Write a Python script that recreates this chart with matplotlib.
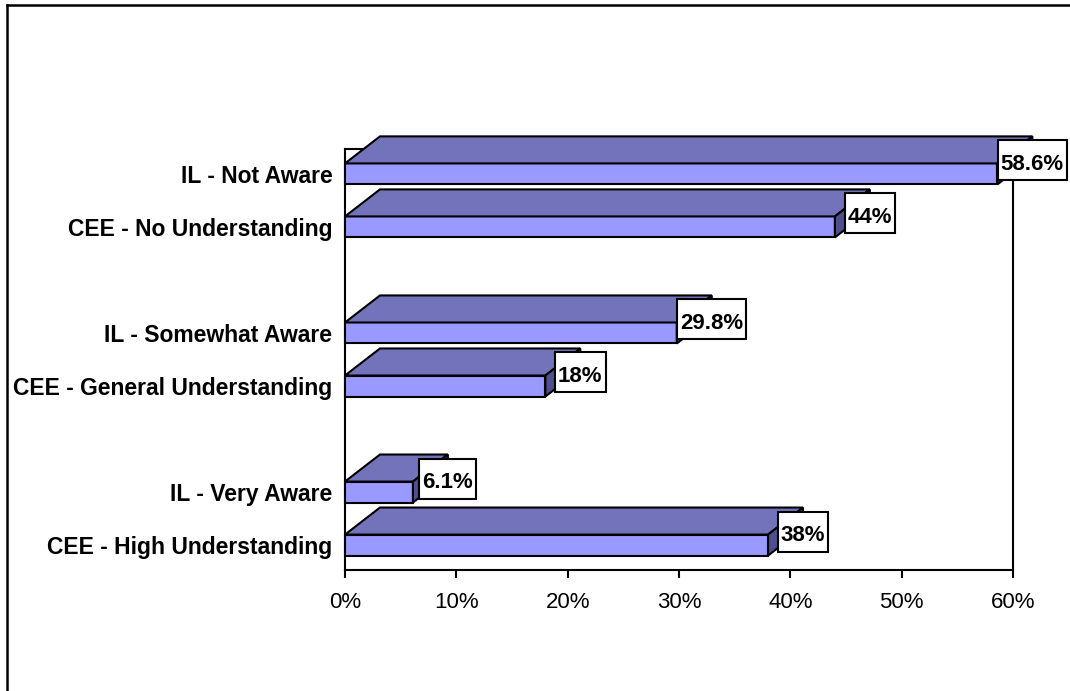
import matplotlib
matplotlib.use("Agg")
import matplotlib.pyplot as plt
from matplotlib.patches import Polygon, Rectangle
from matplotlib.lines import Line2D
from matplotlib.transforms import IdentityTransform, offset_copy

# data
categories = ["IL - Not Aware", "CEE - No Understanding",
              "IL - Somewhat Aware", "CEE - General Understanding",
              "IL - Very Aware", "CEE - High Understanding"]
values = [58.6, 44, 29.8, 18, 6.1, 38]
value_labels = ["58.6%", "44%", "29.8%", "18%", "6.1%", "38%"]
positions = [0, 1, 3, 4, 6, 7]
x_ticks = [0, 10, 20, 30, 40, 50, 60]
x_tick_labels = ["0%", "10%", "20%", "30%", "40%", "50%", "60%"]

plt.rcParams['font.family'] = ['Liberation Sans', 'DejaVu Sans']

W, H = 1070, 691
fig = plt.figure(figsize=(W / 100, H / 100), dpi=100)
ax = fig.add_axes([345 / W, 121 / H, 668 / W, 421 / H])
ax.set_xlim(0, 60)
ax.set_ylim(7.47, -0.47)

front_col = '#9999FF'
top_col = '#7373BB'
side_col = '#4F4F8F'
half = 0.198   # half bar thickness
dx = 3.14      # depth in x (percent)
dy = 0.51      # depth in y (category units)

# baseline sits a bit below the box centre
text_tr = offset_copy(ax.transData, fig=fig, x=0, y=-9.5, units='dots')

texts = []
for pos, val, lab in zip(positions, values, value_labels):
    y0, y1 = pos - half, pos + half
    ax.add_patch(Rectangle((0, y0), val, y1 - y0, fc=front_col, ec='black',
                           lw=1.5, zorder=3, clip_on=False))
    ax.add_patch(Polygon([(0, y0), (val, y0), (val + dx, y0 - dy), (dx, y0 - dy)],
                         closed=True, fc=top_col, ec='black', lw=1.5,
                         zorder=3, clip_on=False))
    ax.add_patch(Polygon([(val, y0), (val, y1), (val + dx, y1 - dy), (val + dx, y0 - dy)],
                         closed=True, fc=side_col, ec='black', lw=1.5,
                         zorder=3, clip_on=False))
    t = ax.text(val + dx, pos - dy / 2, lab, ha='center', va='baseline',
                transform=text_tr, fontsize=16, fontweight='bold',
                zorder=5, clip_on=False)
    texts.append((t, pos))

for s in ax.spines.values():
    s.set_linewidth(1.5)
ax.set_xticks(x_ticks)
ax.set_xticklabels(x_tick_labels, fontsize=16)
ax.set_yticks(positions)
ax.set_yticklabels(categories, fontsize=16.5, fontweight='bold')
ax.tick_params(axis='x', direction='out', length=6, width=1.5, pad=10)
ax.tick_params(axis='y', length=0, pad=9)

# label boxes: tight horizontally, taller vertically (like the original)
fig.canvas.draw()
for t, pos in texts:
    bb = t.get_window_extent()
    cy = ax.transData.transform((0, pos - dy / 2))[1]
    ax.add_patch(Rectangle((bb.x0 - 3, cy - 20), bb.width + 6, 40,
                           transform=IdentityTransform(), fc='white',
                           ec='black', lw=1.5, zorder=4, clip_on=False))

# outer chart border (right and bottom edges fall outside the image)
fig.add_artist(Line2D([7 / W, 7 / W], [0, 1 - 5 / H], color='black', lw=1.8))
fig.add_artist(Line2D([7 / W, 1], [1 - 5 / H, 1 - 5 / H], color='black', lw=1.8))

fig.savefig('out.png', dpi=100)
